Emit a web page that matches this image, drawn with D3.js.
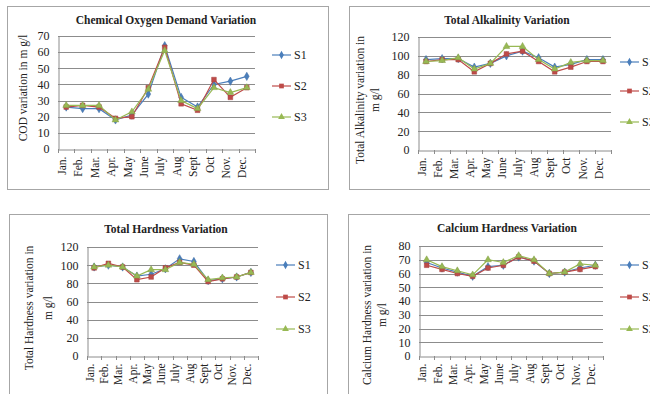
<!DOCTYPE html>
<html>
<head>
<meta charset="utf-8">
<script src="https://cdn.jsdelivr.net/npm/d3@7"></script>
<style>
  body { margin: 0; background: #fff; }
  text { font-family: "Liberation Serif", "Times New Roman", serif; fill: #222; }
</style>
</head>
<body>
<div id="chart"></div>
<script>
// categories and series
const months = ["Jan.", "Feb.", "Mar.", "Apr.", "May", "June", "July", "Aug", "Sept", "Oct", "Nov.", "Dec."];
const seriesNames = ["S1", "S2", "S3"];

// Chemical Oxygen Demand (mg/l)
const codS1 = [26, 25, 25, 18, 21, 34, 64, 32, 26, 40, 42, 45];
const codS2 = [26, 27, 26, 19, 20, 38, 63, 28, 24, 43, 32, 38];
const codS3 = [27, 27, 27, 18, 23, 37, 61, 30, 25, 38, 35, 38];

// Total Alkalinity (mg/l)
const alkS1 = [96, 97, 97, 88, 92, 100, 105, 98, 88, 91, 96, 96];
const alkS2 = [94, 96, 96, 83, 92, 102, 105, 94, 83, 88, 94, 94];
const alkS3 = [94, 95, 98, 86, 92, 110, 110, 96, 86, 93, 95, 95];

// Total Hardness (mg/l)
const thS1 = [98, 100, 98, 88, 90, 96, 107, 104, 83, 85, 87, 92];
const thS2 = [97, 102, 98, 84, 87, 97, 103, 100, 82, 85, 87, 92];
const thS3 = [98, 100, 98, 88, 95, 95, 103, 101, 84, 86, 87, 92];

// Calcium Hardness (mg/l)
const caS1 = [68, 64, 61, 58, 65, 66, 72, 69, 60, 61, 64, 66];
const caS2 = [66, 63, 60, 58, 64, 66, 72, 69, 60, 61, 63, 65];
const caS3 = [70, 65, 62, 59, 70, 68, 73, 70, 60, 61, 67, 66];

// y axis tick labels
const codTicks = [0, 10, 20, 30, 40, 50, 60, 70];
const alkTicks = [0, 20, 40, 60, 80, 100, 120];
const thTicks = [0, 20, 40, 60, 80, 100, 120];
const caTicks = [0, 10, 20, 30, 40, 50, 60, 70, 80];

const colors = ["#4a7ebb", "#be4b48", "#98b954"];
const symbols = [d3.symbolDiamond, d3.symbolSquare, d3.symbolTriangle];
const symbolSizes = [20, 22, 20];

const svg = d3.select("#chart")
  .append("svg")
  .attr("width", 650)
  .attr("height", 394);

function drawPanel(p) {
  const g = svg.append("g");

  // outer chart frame
  g.append("rect")
    .attr("x", p.frame[0] + 0.5).attr("y", p.frame[1] + 0.5)
    .attr("width", p.frame[2]).attr("height", p.frame[3])
    .attr("fill", "#fff")
    .attr("stroke", "#a6a6a6");

  const x = d3.scaleBand()
    .domain(months)
    .range([p.left, p.right]);

  const y = d3.scaleLinear()
    .domain([0, d3.max(p.ticks)])
    .range([p.bottom, p.top]);

  // gridlines
  g.selectAll(".grid")
    .data(p.ticks.filter(t => t > 0))
    .join("line")
    .attr("x1", p.left).attr("x2", p.right)
    .attr("y1", d => Math.round(y(d)) + 0.5).attr("y2", d => Math.round(y(d)) + 0.5)
    .attr("stroke", "#8c8c8c")
    .attr("stroke-width", 1);

  // y axis
  const yAxis = g.append("g")
    .attr("transform", `translate(${p.left + 0.5},0)`)
    .call(d3.axisLeft(y).tickValues(p.ticks).tickSize(0).tickPadding(9));
  yAxis.select(".domain").attr("stroke", "#8c8c8c");
  yAxis.selectAll("text")
    .style("font-family", "'Liberation Serif', serif")
    .style("font-size", "12px")
    .attr("fill", "#222");

  // x axis
  const xAxis = g.append("g")
    .attr("transform", `translate(0,${Math.round(p.bottom) + 0.5})`)
    .call(d3.axisBottom(x).tickSize(0).tickPadding(0));
  xAxis.select(".domain").attr("stroke", "#8c8c8c");
  xAxis.selectAll("text")
    .style("font-family", "'Liberation Serif', serif")
    .style("font-size", "11.5px")
    .attr("fill", "#222")
    .attr("transform", "translate(-4,7)rotate(-90)")
    .attr("dy", "0.32em")
    .attr("x", 0)
    .attr("y", 0)
    .style("text-anchor", "end");

  // tick marks between categories
  g.selectAll(".xtick")
    .data(months.concat(["end"]))
    .join("line")
    .attr("x1", (d, i) => Math.round(p.left + i * x.step()) + 0.5)
    .attr("x2", (d, i) => Math.round(p.left + i * x.step()) + 0.5)
    .attr("y1", p.bottom).attr("y2", p.bottom + 4)
    .attr("stroke", "#8c8c8c");

  // lines + markers
  const line = d3.line()
    .x((d, i) => x(months[i]) + x.bandwidth() / 2)
    .y(d => y(d));

  p.series.forEach((vals, si) => {
    g.append("path")
      .datum(vals)
      .attr("fill", "none")
      .attr("stroke", colors[si])
      .attr("stroke-width", 1.2)
      .attr("d", line);

    g.selectAll(".m" + si)
      .data(vals)
      .join("path")
      .attr("transform", (d, i) => `translate(${x(months[i]) + x.bandwidth() / 2},${y(d)})`)
      .attr("d", d3.symbol().type(symbols[si]).size(symbolSizes[si]))
      .attr("fill", colors[si])
      .attr("stroke", d3.color(colors[si]).darker(0.4))
      .attr("stroke-width", 0.5);
  });

  // title
  g.append("text")
    .attr("x", p.titleX).attr("y", p.titleY)
    .attr("text-anchor", "middle")
    .style("font-size", "11.5px")
    .style("font-weight", "bold")
    .text(p.title);

  // y axis title (one or two lines)
  p.yLabel.forEach((t, i) => {
    g.append("text")
      .attr("transform", `translate(${p.yLabelX[i]},${p.yLabelY})rotate(-90)`)
      .attr("text-anchor", "middle")
      .attr("dy", "0.35em")
      .style("font-size", "11.5px")
      .text(t);
  });

  // legend
  seriesNames.forEach((name, si) => {
    const ly = p.legendY[si];
    g.append("line")
      .attr("x1", p.legendX).attr("x2", p.legendX + 19)
      .attr("y1", ly).attr("y2", ly)
      .attr("stroke", colors[si])
      .attr("stroke-width", 1.2);
    g.append("path")
      .attr("transform", `translate(${p.legendX + 9.5},${ly})`)
      .attr("d", d3.symbol().type(symbols[si]).size(symbolSizes[si]))
      .attr("fill", colors[si]);
    g.append("text")
      .attr("x", p.legendX + 22).attr("y", ly)
      .attr("dy", "0.35em")
      .style("font-size", "12px")
      .text(name);
  });
}

drawPanel({
  frame: [7, 6, 321, 183],
  left: 58, right: 255, top: 36, bottom: 149,
  ticks: codTicks,
  series: [codS1, codS2, codS3],
  title: "Chemical Oxygen Demand Variation",
  titleX: 166, titleY: 24,
  yLabel: ["COD variation in m g/l"],
  yLabelX: [23], yLabelY: 88,
  legendX: 272, legendY: [55, 86, 117]
});

drawPanel({
  frame: [349, 6, 330, 183],
  left: 418, right: 611, top: 37, bottom: 150,
  ticks: alkTicks,
  series: [alkS1, alkS2, alkS3],
  title: "Total Alkalinity Variation",
  titleX: 507, titleY: 24,
  yLabel: ["Total Alkalinity variation in", "m g/l"],
  yLabelX: [360, 375], yLabelY: 100,
  legendX: 620, legendY: [62, 91, 122]
});

drawPanel({
  frame: [9, 214, 318, 200],
  left: 87, right: 258, top: 247, bottom: 356,
  ticks: thTicks,
  series: [thS1, thS2, thS3],
  title: "Total Hardness Variation",
  titleX: 166, titleY: 233,
  yLabel: ["Total Hardness variation in", "m g/l"],
  yLabelX: [29, 48], yLabelY: 308,
  legendX: 276, legendY: [265, 297, 329]
});

drawPanel({
  frame: [348, 214, 330, 200],
  left: 419, right: 603, top: 246, bottom: 356,
  ticks: caTicks,
  series: [caS1, caS2, caS3],
  title: "Calcium Hardness Variation",
  titleX: 507, titleY: 232,
  yLabel: ["Calcium Hardness variation in", "m g/l"],
  yLabelX: [367, 382], yLabelY: 315,
  legendX: 620, legendY: [265, 297, 329]
});
</script>
</body>
</html>
